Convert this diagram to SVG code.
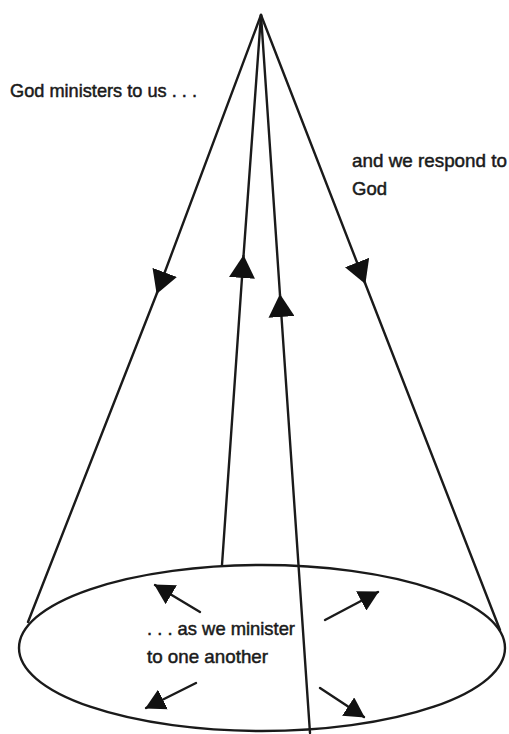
<svg xmlns="http://www.w3.org/2000/svg" width="509" height="734" viewBox="0 0 509 734">
<style>
.ln{stroke:#1a1a1a;stroke-width:2.4;fill:none;stroke-linecap:round}
.t{font-family:"Liberation Sans",Arial,sans-serif;font-size:19px;fill:#1a1a1a;stroke:#1a1a1a;stroke-width:0.5}
</style>
<defs>
<marker id="big" markerUnits="userSpaceOnUse" markerWidth="23" markerHeight="26" viewBox="0 0 23 26" refX="22" refY="13" orient="auto">
<path d="M0,0 L23,13 L0,26 z" fill="#111"/>
</marker>
<marker id="small" markerUnits="userSpaceOnUse" markerWidth="20" markerHeight="22" viewBox="0 0 20 22" refX="19" refY="11" orient="auto">
<path d="M0,0 L20,11 L0,22 z" fill="#111"/>
</marker>
</defs>
<rect width="509" height="734" fill="#fff"/>
<g id="base">
<ellipse cx="262" cy="648" rx="243" ry="83" class="ln"/>
</g>
<g id="connectors">
<path class="ln" d="M261,15 L157,293" marker-end="url(#big)"/>
<path class="ln" d="M157,293 L28,622"/>
<path class="ln" d="M222,565 L243.5,256" marker-end="url(#big)"/>
<path class="ln" d="M243.5,256 L261,15"/>
<path class="ln" d="M310,733 L280,295" marker-end="url(#big)"/>
<path class="ln" d="M280,295 L261,15"/>
<path class="ln" d="M261,15 L365,283" marker-end="url(#big)"/>
<path class="ln" d="M365,283 L500,630"/>
<path class="ln" d="M200,612 L155,585" marker-end="url(#small)"/>
<path class="ln" d="M325,620 L378,592" marker-end="url(#small)"/>
<path class="ln" d="M196,683 L146,708" marker-end="url(#small)"/>
<path class="ln" d="M320,688 L364,717" marker-end="url(#small)"/>
</g>
<g id="label-god">
<text class="t" x="10" y="97" textLength="187" lengthAdjust="spacingAndGlyphs">God ministers to us . . .</text>
</g>
<g id="label-respond">
<text class="t" x="352" y="167" textLength="155" lengthAdjust="spacingAndGlyphs">and we respond to</text>
<text class="t" x="352" y="195" textLength="35" lengthAdjust="spacingAndGlyphs">God</text>
</g>
<g id="label-minister">
<text class="t" x="147" y="635" textLength="148" lengthAdjust="spacingAndGlyphs">. . . as we minister</text>
<text class="t" x="147" y="663" textLength="121" lengthAdjust="spacingAndGlyphs">to one another</text>
</g>
</svg>
